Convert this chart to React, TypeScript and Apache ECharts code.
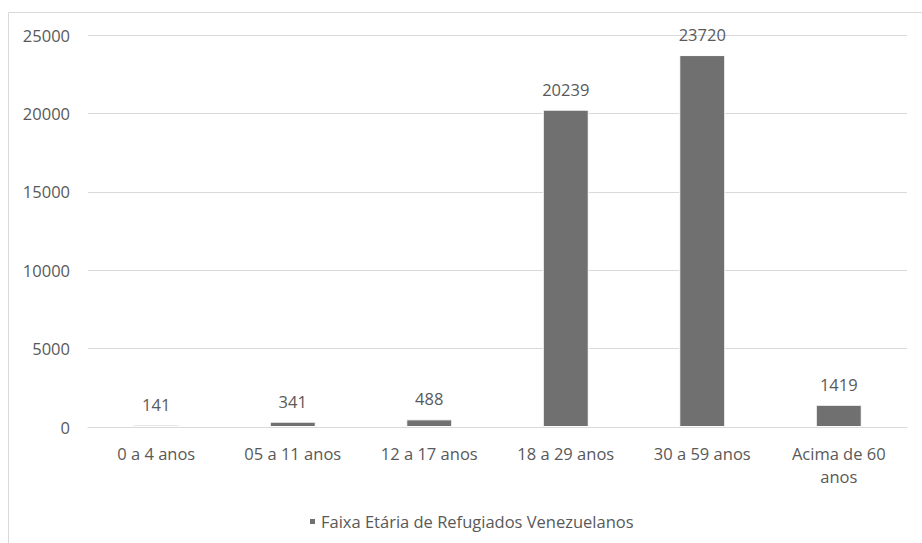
import React, { useEffect, useRef } from "react";
import * as echarts from "echarts";

// Age groups of Venezuelan refugees
const categories = ["0 a 4 anos", "05 a 11 anos", "12 a 17 anos", "18 a 29 anos", "30 a 59 anos", "Acima de 60\nanos"];
const values = [141, 341, 488, 20239, 23720, 1419];
const seriesName = "Faixa Etária de Refugiados Venezuelanos";
const yTicks = [0, 5000, 10000, 15000, 20000, 25000];

const FONT = "'Open Sans', 'Noto Sans', sans-serif";
const TEXT = "#595959";
const SIZE = 16.5;

export default function App() {
  const ref = useRef<HTMLDivElement>(null);

  useEffect(() => {
    if (!ref.current) return;
    const chart = echarts.init(ref.current, undefined, { renderer: "svg" });
    chart.setOption({
      animation: false,
      backgroundColor: "#ffffff",
      textStyle: { fontFamily: FONT },
      graphic: [
        {
          type: "rect",
          shape: { x: 8.5, y: 12.5, width: 1200, height: 1200 },
          style: { fill: "none", stroke: "#d9d9d9", lineWidth: 1 },
          silent: true,
          z: -1,
        },
      ],
      grid: { left: 88, right: 15, top: 35, bottom: 116, containLabel: false },
      legend: {
        data: [seriesName],
        left: 303,
        top: 508,
        icon: "rect",
        itemWidth: 7,
        itemHeight: 7,
        textStyle: { color: TEXT, fontSize: SIZE, fontFamily: FONT },
      },
      xAxis: {
        type: "category",
        data: categories,
        axisLine: { show: true, lineStyle: { color: "#d9d9d9", width: 1 } },
        axisTick: { show: false },
        axisLabel: { color: TEXT, fontSize: SIZE, fontFamily: FONT, margin: 15, lineHeight: 23, interval: 0 },
      },
      yAxis: {
        type: "value",
        min: yTicks[0],
        max: yTicks[yTicks.length - 1],
        interval: 5000,
        axisLine: { show: false },
        axisTick: { show: false },
        splitLine: { lineStyle: { color: "#d9d9d9", width: 1 } },
        axisLabel: {
          color: TEXT,
          fontSize: SIZE,
          fontFamily: FONT,
          margin: 18,
          formatter: (v: number) => String(v),
        },
      },
      series: [
        {
          name: seriesName,
          type: "bar",
          data: values,
          barWidth: 46,
          itemStyle: { color: "#707070", borderColor: "#ffffff", borderWidth: 1 },
          label: {
            show: true,
            position: "top",
            distance: 12,
            color: TEXT,
            fontSize: SIZE,
            fontFamily: FONT,
          },
        },
      ],
    });
    return () => chart.dispose();
  }, []);

  return (
    <div
      ref={ref}
      style={{ position: "fixed", left: 0, top: 0, width: 922, height: 543, background: "#fff" }}
    />
  );
}
